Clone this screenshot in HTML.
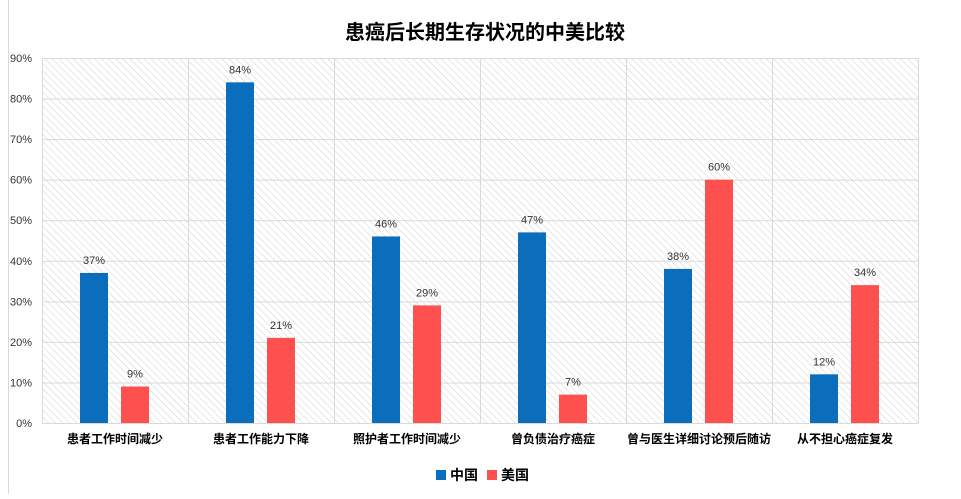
<!DOCTYPE html>
<html><head><meta charset="utf-8"><style>
body{margin:0;background:#fff;width:961px;height:494px;overflow:hidden;font-family:"Liberation Sans","Noto Sans CJK SC",sans-serif;}
</style></head><body>
<svg width="961" height="494" id="chart" xmlns="http://www.w3.org/2000/svg">
<defs><pattern id="hatch" width="5" height="5" patternUnits="userSpaceOnUse" patternTransform="rotate(-45)"><line x1="0" y1="0" x2="0" y2="5" stroke="#cfcfcf" stroke-width="1"/></pattern></defs>
<line x1="8.5" y1="0" x2="8.5" y2="494" stroke="#d9d9d9"/>
<text x="485" y="39" text-anchor="middle" font-size="20" font-weight="bold" fill="#000" font-family="'Liberation Sans','Noto Sans CJK SC',sans-serif">患癌后长期生存状况的中美比较</text>
<rect x="42" y="58" width="876" height="365" fill="url(#hatch)"/>
<g id="grid"></g><g id="bars"></g><g id="labels"></g>
<g>
<rect x="436" y="470" width="10" height="10" fill="#0a6ebd"/>
<text x="450" y="480" font-size="14" font-weight="bold" font-family="'Liberation Sans','Noto Sans CJK SC',sans-serif">中国</text>
<rect x="487" y="470" width="10" height="10" fill="#ff5050"/>
<text x="501" y="480" font-size="14" font-weight="bold" font-family="'Liberation Sans','Noto Sans CJK SC',sans-serif">美国</text>
</g>
</svg>
<script>
const categories=["患者工作时间减少","患者工作能力下降","照护者工作时间减少","曾负债治疗癌症","曾与医生详细讨论预后随访","从不担心癌症复发"];
const chinaValues=[37,84,46,47,38,12];
const usaValues=[9,21,29,7,60,34];
const yTicks=[0,10,20,30,40,50,60,70,80,90];
const NS="http://www.w3.org/2000/svg";
const L=42,R=918,T=58,B=423,maxV=90;
const y=v=>B-(v/maxV)*(B-T);
const cw=(R-L)/categories.length;
const x=i=>L+i*cw;
function mk(t,a,p){const e=document.createElementNS(NS,t);for(const k in a)e.setAttribute(k,a[k]);p.appendChild(e);return e;}
const g=document.getElementById('grid'),bg=document.getElementById('bars'),lg=document.getElementById('labels');
yTicks.forEach(v=>{
 const ln=mk('line',{x1:L,x2:R,y1:y(v)+0.5,y2:y(v)+0.5,stroke:'#d9d9d9'},g);
 
 
 const t=mk('text',{x:L-10,y:y(v)+4,'text-anchor':'end','font-size':'11',fill:'#333'},g);
 t.textContent=v+'%';
 
 
});
for(let i=0;i<=categories.length;i++){
 const ln=mk('line',{x1:x(i)+0.5,x2:x(i)+0.5,y1:T,y2:B,stroke:'#d9d9d9'},g);
 
 
}
categories.forEach((c,i)=>{
 [[chinaValues[i],'#0a6ebd',38,'china'],[usaValues[i],'#ff5050',79,'usa']].forEach(([v,col,off,s])=>{
  const r=mk('rect',{x:x(i)+off,y:y(v),width:28,height:B-y(v),fill:col},bg);
  
  
  const t=mk('text',{x:x(i)+off+14,y:y(v)-9,'text-anchor':'middle','font-size':'11',fill:'#333'},lg);
  t.textContent=v+'%';
  
  
 });
 const t=mk('text',{x:x(i)+cw/2,y:443,'text-anchor':'middle','font-size':'12','font-weight':'bold',fill:'#000'},lg);
 t.textContent=c;
 
 
});
</script>
</body></html>
